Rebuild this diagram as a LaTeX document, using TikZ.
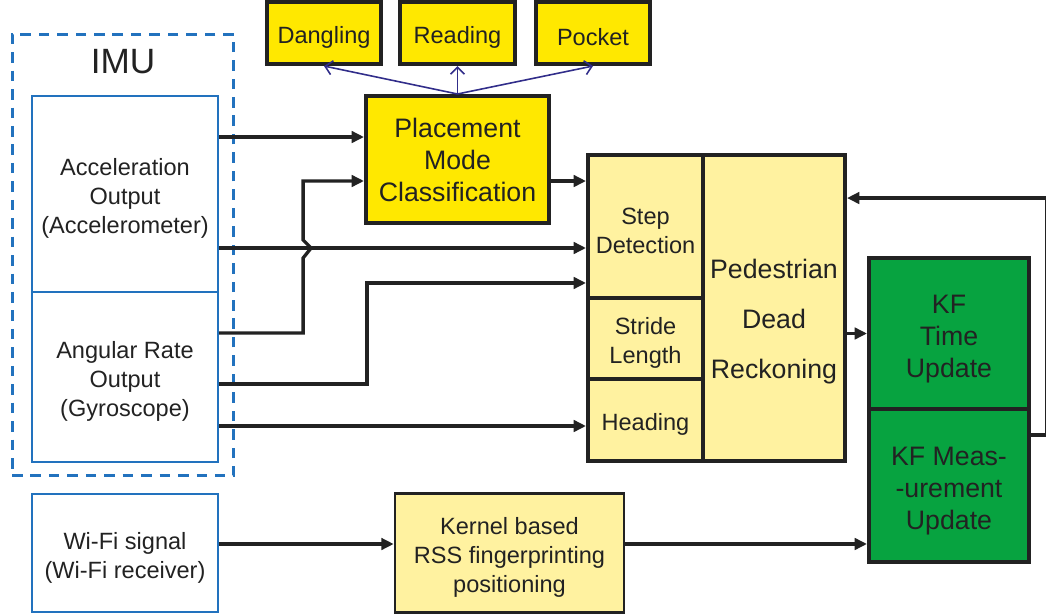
\documentclass[tikz,border=0pt]{standalone}
\usepackage{fontspec}
\setmainfont{Liberation Sans}
\definecolor{modeyellow}{HTML}{FFE800}
\definecolor{pdryellow}{HTML}{FFF2A0}
\definecolor{kfgreen}{HTML}{07A340}
\definecolor{imublue}{HTML}{2272BE}
\definecolor{linkblue}{HTML}{312D8A}
\definecolor{inkgray}{HTML}{222222}
\usetikzlibrary{arrows.meta, positioning}
\newcommand{\lineup}{\rule{0pt}{1.1em}}

\begin{document}
\begin{tikzpicture}[x=0.02cm, y=-0.02cm,
    smalltxt/.style={font=\fontsize{13.4}{16.5}\selectfont, align=center, text=inkgray},
    bigtxt/.style={font=\fontsize{15.2}{18.2}\selectfont, align=center, text=inkgray},
    sensor/.style={draw=imublue, line width=1.3pt, minimum width=3.72cm, inner sep=0pt, smalltxt},
    modebox/.style={draw=inkgray, fill=modeyellow, line width=2.3pt, inner sep=0pt},
    pdrbox/.style={draw=inkgray, fill=pdryellow, line width=2.3pt, minimum width=2.3cm, inner sep=0pt, smalltxt},
    kfbox/.style={draw=inkgray, fill=kfgreen, line width=2.3pt, minimum width=3.2cm, inner sep=0pt, bigtxt},
    flowarrow/.style={draw=inkgray, line width=1.9pt, -{Triangle[length=7pt, width=6.5pt]}},
    modearrow/.style={draw=linkblue, line width=0.9pt, -{Straight Barb[length=4pt, width=8pt]}}]
        \useasboundingbox (0,0) rectangle (1046,616);
        % IMU
        \node[draw=imublue, line width=1.7pt, dash pattern=on 6pt off 4.5pt,
          minimum width=4.44cm, minimum height=8.84cm] (imu) at (123,255) {};
        \node[font=\fontsize{20}{24}\selectfont, text=inkgray] (imutxt) at (123,62) {IMU};
        \node[sensor, minimum height=3.92cm] (acc) at (125,194) {\lineup Acceleration\\Output\\(Accelerometer)};
        \node[sensor, minimum height=3.4cm] (gyro) at (125,377) {\lineup Angular Rate\\Output\\(Gyroscope)};
        % Wi-Fi
        \node[sensor, minimum height=2.36cm] (wifi) at (125,553) {\lineup Wi-Fi signal\\(Wi-Fi receiver)};
        % Placement modes
        \node[modebox, smalltxt, minimum width=2.28cm, minimum height=1.24cm] (dang) at (324,33) {\lineup Dangling};
        \node[modebox, smalltxt, minimum width=2.3cm, minimum height=1.24cm] (read) at (457.5,33) {\lineup Reading};
        \node[modebox, smalltxt, minimum width=2.28cm, minimum height=1.24cm] (pock) at (593,33) {\lineup Pocket};
        \node[modebox, bigtxt, minimum width=3.66cm, minimum height=2.54cm] (pmc) at (457.5,159.5)
          {Placement\\Mode\\Classification};
        % PDR
        \node[pdrbox, minimum height=2.86cm] (step) at (645.5,226.5) {\lineup Step\\Detection};
        \node[pdrbox, minimum height=1.62cm] (stride) at (645.5,338.5) {\lineup Stride\\Length};
        \node[pdrbox, minimum height=1.64cm] (head) at (645.5,420) {\lineup Heading};
        \node[pdrbox, minimum width=2.84cm, minimum height=6.12cm,
          label={[font=\fontsize{15.2}{28.5}\selectfont, align=center, text=inkgray, yshift=-0.27cm]center:Pedestrian\\Dead\\Reckoning}]
          (pdr) at (774,308) {};
        % KF
        \node[kfbox, minimum height=3.02cm] (kft) at (949,333.5) {\lineup KF\\Time\\Update};
        \node[kfbox, minimum height=3.06cm] (kfm) at (949,485.5) {\lineup KF Meas-\\-urement\\Update};
        % Kernel
        \node[draw=inkgray, fill=pdryellow, line width=1.5pt, minimum width=4.58cm, minimum height=2.38cm,
          inner sep=0pt, smalltxt] (kern) at (509.5,553) {\lineup Kernel based\\RSS fingerprinting\\positioning};
        % Ports
        \path ([yshift=0.45cm]pmc.west) coordinate (pmcin1)
          ([yshift=-0.43cm]pmc.west) coordinate (pmcin2)
          ([yshift=0.91cm]step.west) coordinate (stepin1)
          ([yshift=-0.43cm]step.west) coordinate (stepin2)
          ([yshift=-1.13cm]step.west) coordinate (stepin3)
          ([yshift=-0.12cm]head.west) coordinate (headin)
          ([yshift=0.88cm]gyro.east) coordinate (gyroout1)
          ([yshift=-0.14cm]gyro.east) coordinate (gyroout2)
          ([yshift=2.2cm]pdr.east) coordinate (pdrin)
          ([yshift=1.01cm]kfm.east) coordinate (kfmout)
          ([yshift=0.18cm]kern.west) coordinate (kernin)
          ([yshift=-1.17cm]kfm.west) coordinate (kfmin);
        % Sensor arrows
        \draw[flowarrow] (acc.east |- pmcin1) -- (pmcin1);
        \draw[flowarrow] (acc.east |- stepin2) -- (stepin2);
        \draw[flowarrow] (gyroout1) -- ++(84,0) -- ++(0,-75) -- ++(8,-10) -- ++(-8,-8) |- (pmcin2);
        \draw[flowarrow] (gyroout2) -- ++(148,0) |- (stepin3);
        \draw[flowarrow] (gyro.east |- headin) -- (headin);
        \draw[flowarrow] (pmc.east |- stepin1) -- (stepin1);
        \foreach \m in {dang, read, pock}
          \draw[modearrow] (pmc.north) -- (\m.south);
        % Filter arrows
        \draw[flowarrow] (pdr.east |- kft.west) -- (kft.west);
        \draw[flowarrow] (kfmout) -- ++(16,0) |- (pdrin);
        \draw[flowarrow] (wifi.east |- kernin) -- (kernin);
        \draw[flowarrow] (kern.east |- kfmin) -- (kfmin);
      \end{tikzpicture}
\end{document}
